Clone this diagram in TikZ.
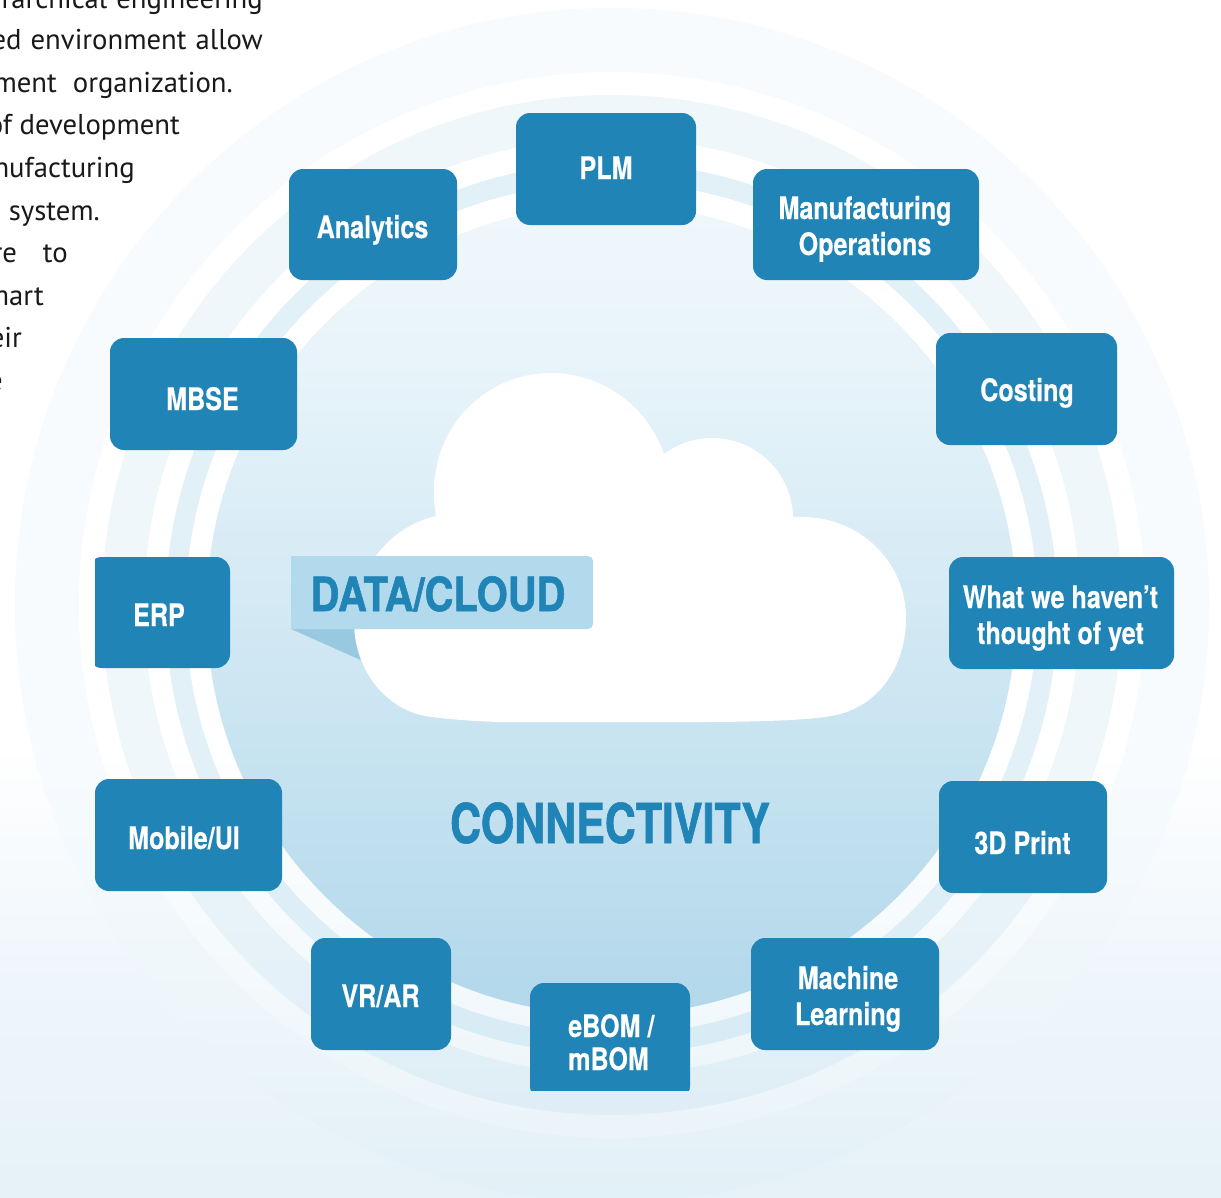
\documentclass[tikz,border=0pt]{standalone}
\usepackage{fontspec}
\setmainfont{PT Sans}
\newfontfamily\boxfont[FakeStretch=0.81,BoldFeatures={FakeBold=0.3}]{TeX Gyre Heros}
\newfontfamily\headfont[FakeStretch=0.85,BoldFeatures={FakeBold=1.1}]{TeX Gyre Heros}
\newfontfamily\connfont[FakeStretch=0.78,BoldFeatures={FakeBold=1.1}]{TeX Gyre Heros}
\definecolor{boxblue}{HTML}{2085B6}
\definecolor{barblue}{HTML}{B3DAEC}
\definecolor{tailblue}{HTML}{99C9E0}
% y pixel -> stop: 75 - y*50/1197
\definecolor{bA}{HTML}{E6F2F8}\definecolor{bB}{HTML}{EDF5FB}
\pgfdeclareverticalshading{bgsh}{100bp}{
 color(0bp)=(bA); color(25bp)=(bA); color(33bp)=(bB); color(44bp)=(white); color(100bp)=(white)}
\definecolor{gA}{HTML}{E8F3F9}\definecolor{gB}{HTML}{EBF4FA}\definecolor{gC}{HTML}{EFF6FA}\definecolor{gD}{HTML}{F1F8FB}
\pgfdeclareverticalshading{gapsh}{100bp}{
 color(0bp)=(gA); color(25bp)=(gA); color(28bp)=(gB); color(30.5bp)=(gC); color(32.2bp)=(gD); color(44bp)=(white); color(100bp)=(white)}
\definecolor{oA}{HTML}{F7FBFE}\definecolor{oB}{HTML}{EEF6FA}\definecolor{oC}{HTML}{E2F0F7}
\definecolor{rA}{HTML}{EFF7FA}\definecolor{rB}{HTML}{E8F3F9}\definecolor{rC}{HTML}{DFEEF6}
\definecolor{tA}{HTML}{E2F0F7}\definecolor{tC}{HTML}{D8ECF5}
\definecolor{dA}{HTML}{F0F7FB}\definecolor{dB}{HTML}{E8F4FA}\definecolor{dC}{HTML}{C9E4F1}\definecolor{dD}{HTML}{B2D8EB}
\pgfdeclareverticalshading{outersh}{100bp}{
 color(0bp)=(oC); color(25bp)=(oC); color(33bp)=(oB); color(43bp)=(oA); color(100bp)=(oA)}
\pgfdeclareverticalshading{ringsh}{100bp}{
 color(0bp)=(rC); color(29bp)=(rC); color(37.4bp)=(rB); color(43bp)=(rA); color(100bp)=(rA)}
\pgfdeclareverticalshading{thirdsh}{100bp}{
 color(0bp)=(tC); color(31.6bp)=(tC); color(42bp)=(tA); color(100bp)=(tA)}
\pgfdeclareverticalshading{discsh}{100bp}{
 color(0bp)=(dD); color(32.8bp)=(dD); color(44.5bp)=(dC); color(60bp)=(dB); color(66.6bp)=(dA); color(100bp)=(dA)}
\tikzset{
 x=1pt,y=-1pt,
 bx/.style={fill=boxblue,rounded corners=14pt,inner sep=0pt,draw=none},
 bxtext/.style={text=white,inner sep=0pt,align=center,anchor=base,font=\boxfont\bfseries\fontsize{31}{36}\selectfont},
 para/.style={text=black!90,inner sep=0pt,anchor=base east,font=\fontsize{28.7}{34}\selectfont}
}
\newcommand{\zone}[4]{\begin{scope}\clip (#1,#2) circle (#3pt);\shade[shading=#4] (0,0) rectangle (1221,1197);\end{scope}}
\newcommand{\bxnode}[5]{\node[bx,minimum width=#4pt-#2pt,minimum height=#5pt-#3pt] (#1) at ({(#2+#4)/2},{(#3+#5)/2}) {};}
\begin{document}
\begin{tikzpicture}
\useasboundingbox (0,0) rectangle (1221,1197);
\clip (0,0) rectangle (1221,1197);
\shade[shading=bgsh] (0,0) rectangle (1221,1197);
\zone{612}{605}{597}{outersh}
\zone{612}{605}{533}{gapsh}
\zone{612}{605}{510}{ringsh}
\zone{612}{606}{468}{gapsh}
\zone{611.5}{608.5}{446}{thirdsh}
\zone{611.5}{608.5}{426}{gapsh}
\zone{611.5}{610}{405}{discsh}
% side text
\node[para] (p1) at (263,8) {rarchical\hspace{9pt}engineering};
\node[para] (p2) at (263,49) {ed\hspace{9pt}environment\hspace{9pt}allow};
\node[para] (p3) at (233,92) {ment\hspace{16pt}organization.};
\node[para] (p4) at (180,134) {of development};
\node[para] (p5) at (135,177) {nufacturing};
\node[para] (p6) at (100,220) {system.};
\node[para] (p7) at (68,262) {re\hspace{26pt}to};
\node[para] (p8) at (44,305) {mart};
\node[para] (p9) at (22,347) {eir};
\node[para] (p10) at (3,390) {e};
% cloud
\fill[tailblue] (291,629) -- (365,662) -- (365,629) -- cycle;
\fill[white] (436,516) .. controls (434.5,508) and (434,500) .. (434,491)
 .. controls (434,426) and (486,373) .. (551,373)
 .. controls (603,373) and (648,407) .. (664,454)
 .. controls (678,444) and (694,438) .. (712,438)
 .. controls (756,438) and (792,473) .. (793,517)
 .. controls (796,517) and (799,517) .. (802,517)
 .. controls (860,517) and (906,562) .. (906,618)
 .. controls (906,667) and (878,706) .. (836,715)
 .. controls (815,720) and (760,722) .. (700,722)
 -- (499,722)
 .. controls (470,721) and (445,719) .. (425,716)
 .. controls (384,708) and (354,668) .. (354,622)
 .. controls (354,572) and (388,527) .. (436,516) -- cycle;
\fill[barblue,rounded corners=5pt] (291,556) [sharp corners] -- (291,629) [rounded corners=5pt] -- (593,629) -- (593,556) [sharp corners] -- cycle;
\node[inner sep=0pt,anchor=base,text=boxblue,font=\headfont\bfseries\fontsize{47}{47}\selectfont] (head) at (438,611) {DATA/CLOUD};
\node[inner sep=0pt,anchor=base,text=boxblue,font=\connfont\bfseries\fontsize{55}{55}\selectfont] (conn) at (610,843) {CONNECTIVITY};
% boxes
\bxnode{plm}{516}{113}{696}{225}
\node[bxtext] (plmt) at (606,179) {PLM};
\bxnode{ana}{289}{169}{457}{280}
\node[bxtext] (anat) at (372.5,238) {Analytics};
\bxnode{mfg}{753}{169}{979}{280}
\node[bxtext] (mfgt) at (865,255) {Manufacturing\\Operations};
\bxnode{cost}{936}{333}{1117}{445}
\node[bxtext] (costt) at (1027,401) {Costing};
\bxnode{mbse}{110}{338}{297}{450}
\node[bxtext] (mbset) at (202.5,410) {MBSE};
\bxnode{what}{949}{557}{1174}{669}
\node[bxtext] (whatt) at (1060.5,644) {What we haven’t\\thought of yet};
\begin{scope}
\clip (95,500) rectangle (400,720);
\bxnode{erp}{88}{557}{230}{668}
\end{scope}
\node[bxtext] (erpt) at (159,626) {ERP};
\bxnode{mob}{95}{779}{282}{891}
\node[bxtext] (mobt) at (184,849) {Mobile/UI};
\bxnode{pri}{939}{781}{1107}{893}
\node[bxtext] (prit) at (1022.5,854) {3D Print};
\bxnode{vr}{311}{938}{451}{1050}
\node[bxtext] (vrt) at (380.5,1007) {VR/AR};
\bxnode{mach}{751}{938}{939}{1050}
\node[bxtext] (macht) at (848,1025) {Machine\\Learning};
\begin{scope}
\clip (500,970) rectangle (720,1090);
\bxnode{ebom}{530}{983}{690}{1100}
\end{scope}
\node[bxtext,anchor=base west,align=left,font=\boxfont\bfseries\fontsize{31}{33}\selectfont] (ebomt) at (568,1070) {eBOM /\\mBOM};
\end{tikzpicture}
\end{document}
